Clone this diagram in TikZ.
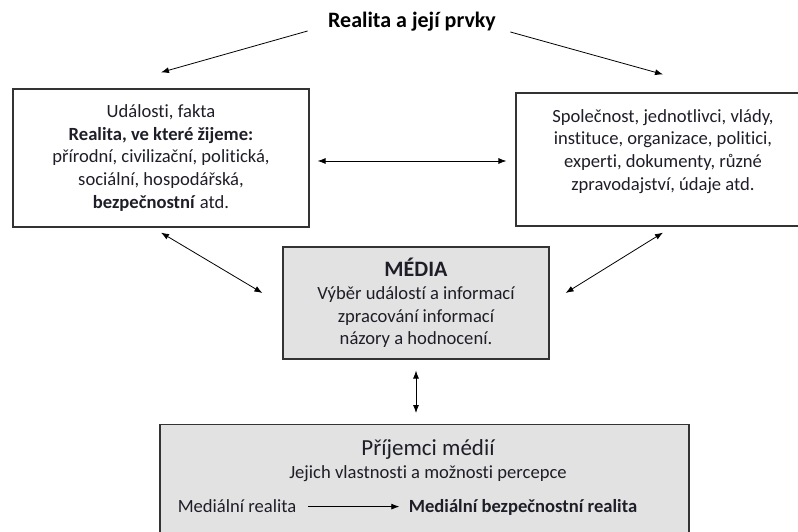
\documentclass[tikz,border=0pt]{standalone}
\usepackage{fontspec}
\setmainfont{Carlito}[Ligatures=NoCommon]
\usetikzlibrary{arrows.meta}
\definecolor{boxgray}{HTML}{E2E2E2}
\definecolor{ink}{HTML}{1E1E28}
\tikzset{
  box/.style={draw=black!80, line width=1.2pt, align=center, inner sep=0pt, text=ink,
    font=\fontsize{18.6}{22.7}\selectfont},
  graybox/.style={box, fill=boxgray},
  txt/.style={text=ink, anchor=base, font=\fontsize{18.6}{22}\selectfont},
  link/.style={line width=0.8pt, -{Latex[length=8pt,width=6pt]}},
  duallink/.style={line width=0.8pt, {Latex[length=8pt,width=6pt]}-{Latex[length=8pt,width=6pt]}}
}
\begin{document}
\begin{tikzpicture}[x=1pt,y=-1pt]
    \useasboundingbox (0,0) rectangle (798,532);
    \clip (0,0) rectangle (798,532);

    % Titel
    \node[font=\fontsize{22}{26}\selectfont\bfseries] (reality) at (412,22) {Realita a její prvky};

    % Kasten oben
    \node[box, minimum width=296pt, minimum height=138pt] (events) at (161,158)
      {Události, fakta\\ \textbf{Realita, ve které žijeme:}\\ přírodní, civilizační, politická,\\
       sociální, hospodářská,\\ \textbf{bezpečnostní} atd.};
    \node[box, minimum width=294pt, minimum height=133pt] (actors) at (663,159.5)
      {Společnost, jednotlivci, vlády,\\ instituce, organizace, politici,\\
       experti, dokumenty, různé\\ zpravodajství, údaje atd.\\[-10pt]\strut};

    % Medien
    \node[graybox, minimum width=266pt, minimum height=112pt] (media) at (416,303)
      {{\fontsize{22}{24}\selectfont\bfseries MÉDIA}\\ Výběr událostí a informací\\
       zpracování informací\\ názory a hodnocení.};

    % Empfänger
    \node[graybox, minimum width=529pt, minimum height=120pt, anchor=north] (recipients) at (424.5,424) {};
    \node[txt, font=\fontsize{23}{26}\selectfont] (recvtitle) at (428,455) {Příjemci médií};
    \node[txt] (percept) at (428,478) {Jejich vlastnosti a možnosti percepce};
    \node[txt] (medreal) at (237,512) {Mediální realita};
    \node[txt, font=\fontsize{18.6}{22}\selectfont\bfseries] (secreal) at (523,512) {Mediální bezpečnostní realita};

    % Pfeile
    \draw[link] ([xshift=-17pt,yshift=-9pt]reality.west) -- ([yshift=16pt]events.north);
    \draw[link] ([xshift=11pt,yshift=-10pt]reality.east) -- ([yshift=18pt]actors.north);
    \draw[duallink] ([xshift=8pt,yshift=-3pt]events.east) -- ([xshift=-9pt,yshift=-1.5pt]actors.west);
    \draw[duallink] ([yshift=-5pt]events.south) -- ([xshift=-20pt,yshift=10pt]media.west);
    \draw[duallink] ([yshift=-6pt]actors.south) -- ([xshift=16pt,yshift=10pt]media.east);
    \draw[duallink, shorten <=11pt, shorten >=11pt] (media.south) -- (media.south |- recipients.north);
    \draw[link, shorten <=8pt, shorten >=6pt] ([yshift=-1pt]medreal.east) -- ([yshift=-1pt]medreal.east -| secreal.west);
\end{tikzpicture}
\end{document}
